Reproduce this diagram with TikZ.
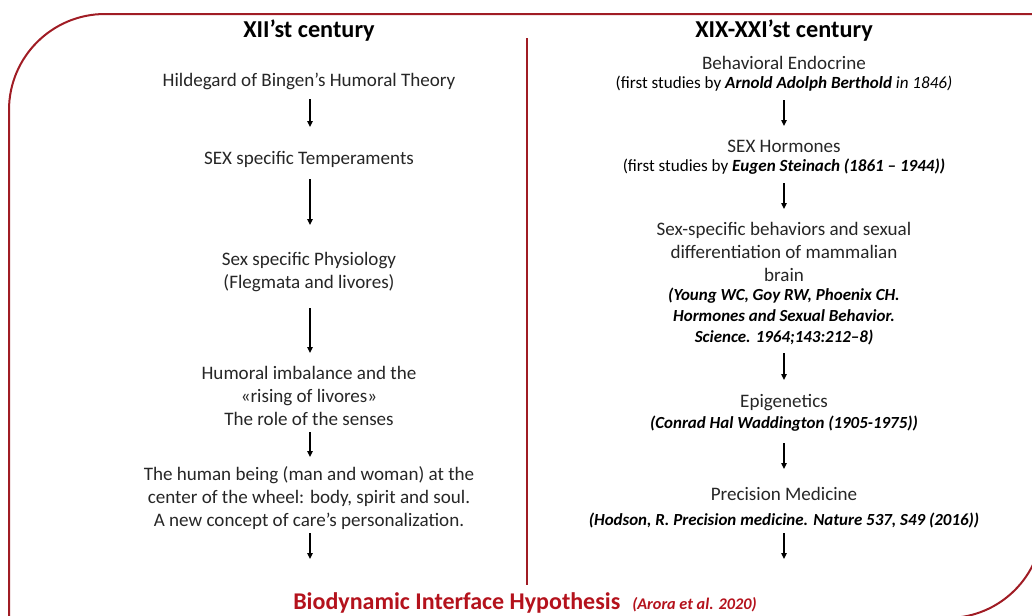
\documentclass[tikz,border=0pt]{standalone}
\usepackage{fontspec}
\setmainfont{Carlito}
\usetikzlibrary{arrows.meta}
\definecolor{frameRed}{RGB}{160,28,36}
\definecolor{titleRed}{RGB}{180,18,28}
\definecolor{bodyTxt}{RGB}{38,38,38}
\tikzset{
  txt/.style={inner sep=0pt, align=center, text=bodyTxt, font=\fontsize{14.3}{17.25}\selectfont},
  reftxt/.style={inner sep=0pt, align=center, text=black, font=\fontsize{12.7}{15.4}\selectfont\bfseries\itshape},
  citetxt/.style={inner sep=0pt, text=black, font=\fontsize{12.8}{15}\selectfont},
  head/.style={inner sep=0pt, text=black, font=\fontsize{18.2}{21}\selectfont\bfseries},
  arr/.style={-{Triangle[length=4.5pt,width=4pt]}, line width=1pt, black},
  framepath/.style={draw=frameRed, line width=1.5pt},
}
\begin{document}
\begin{tikzpicture}[x=0.75pt,y=-0.75pt]
\useasboundingbox (0,0) rectangle (1032,615);
\clip (0,0) rectangle (1032,615);
% frame
\draw[framepath] (9,640) -- (9,110) arc[start angle=180,end angle=270,radius=96]
  -- (1042.6,14) -- (1042.6,523) arc[start angle=0,end angle=90,radius=95] -- (900,618);
% divider
\draw[draw=frameRed, line width=1.6pt] (527,38) -- (527,585);
% left column
\node[head] (lh) at (309,31) {XII’st century};
\node[txt] (l1) at (309,81) {Hildegard of Bingen’s Humoral Theory};
\node[txt] (l2) at (309,159) {SEX specific Temperaments};
\node[txt] (l3) at (309,272.5) {Sex specific Physiology\\(Flegmata and livores)};
\node[txt] (l4) at (309,395.5) {Humoral imbalance and the\\«rising of livores»\\The role of the senses};
\node[txt] (l5) at (309,498) {The human being (man and woman) at the\\center of the wheel: body, spirit and soul.\\A new concept of care’s personalization.};
\coordinate (la1s) at (310,99);  \coordinate (la1e) at (310,127);
\coordinate (la2s) at (310,179); \coordinate (la2e) at (310,225);
\coordinate (la3s) at (310,308); \coordinate (la3e) at (310,353);
\coordinate (la4s) at (310,432); \coordinate (la4e) at (310,457);
\coordinate (la5s) at (310,533); \coordinate (la5e) at (310,559);
\draw[arr] (la1s) -- (la1e);
\draw[arr] (la2s) -- (la2e);
\draw[arr] (la3s) -- (la3e);
\draw[arr] (la4s) -- (la4e);
\draw[arr] (la5s) -- (la5e);
% right column
\node[head] (rh) at (784,31) {XIX-XXI’st century};
\node[txt] (r1) at (784,63) {Behavioral Endocrine};
\node[citetxt] (r1b) at (784,84) {(first studies by \textbf{\textit{Arnold Adolph Berthold}} \textit{in 1846)}};
\node[txt] (r2) at (784,146) {SEX Hormones};
\node[citetxt] (r2b) at (784,167) {(first studies by \textbf{\textit{Eugen Steinach (1861 – 1944))}}};
\node[txt] (r3) at (784,252) {Sex-specific behaviors and sexual\\differentiation of mammalian\\brain};
\node[reftxt] (r3b) at (784,316.5) {(Young WC, Goy RW, Phoenix CH.\\Hormones and Sexual Behavior.\\Science. 1964;143:212–8)};
\node[txt] (r4) at (784,403) {Epigenetics};
\node[reftxt] (r4b) at (784,424) {(Conrad Hal Waddington (1905-1975))};
\node[txt] (r5) at (784,494) {Precision Medicine};
\node[reftxt] (r5b) at (784,520) {(Hodson, R. Precision medicine. Nature 537, S49 (2016))};
\coordinate (ra1s) at (784,100); \coordinate (ra1e) at (784,126);
\coordinate (ra2s) at (784,183); \coordinate (ra2e) at (784,209);
\coordinate (ra3s) at (784,353); \coordinate (ra3e) at (784,380);
\coordinate (ra4s) at (784,443); \coordinate (ra4e) at (784,469);
\coordinate (ra5s) at (784,533); \coordinate (ra5e) at (784,559);
\draw[arr] (ra1s) -- (ra1e);
\draw[arr] (ra2s) -- (ra2e);
\draw[arr] (ra3s) -- (ra3e);
\draw[arr] (ra4s) -- (ra4e);
\draw[arr] (ra5s) -- (ra5e);
% bottom
\node[inner sep=0pt, anchor=base west, text=titleRed, font=\fontsize{18}{21}\selectfont\bfseries] (bt) at (293,609) {Biodynamic Interface Hypothesis};
\node[inner sep=0pt, anchor=base west, text=titleRed, font=\fontsize{12.2}{14}\selectfont\bfseries\itshape] (bc) at (632,609) {(Arora et al. 2020)};
\end{tikzpicture}
\end{document}
